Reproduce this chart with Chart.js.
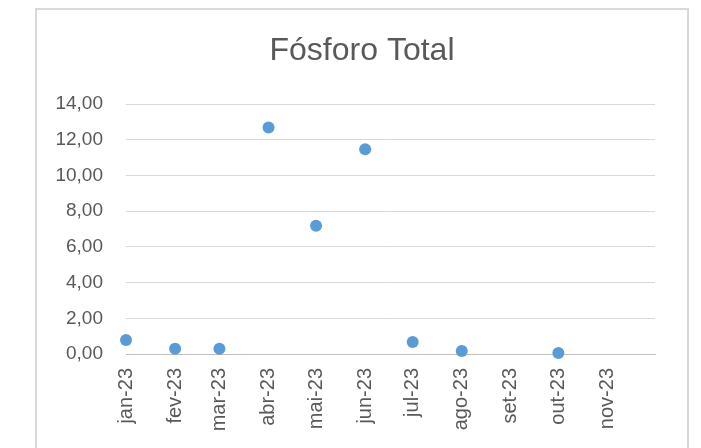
<!DOCTYPE html>
<html>
<head>
<meta charset="utf-8">
<script src="https://cdn.jsdelivr.net/npm/chart.js@4"></script>
<style>
  html, body { margin: 0; padding: 0; background: #ffffff; }
  #wrap { width: 701px; height: 448px; position: relative; }
</style>
</head>
<body>
<div id="wrap"><canvas id="c" width="701" height="448"></canvas></div>
<script>
const chartTitle = 'Fósforo Total';
const sampleDates = ['2023-01-01', '2023-02-01', '2023-03-01', '2023-04-01', '2023-05-01', '2023-06-01', '2023-07-01', '2023-08-01', '2023-10-01'];
const sampleValues = [0.78, 0.30, 0.30, 12.68, 7.18, 11.46, 0.67, 0.17, 0.06];
const tickDates = ['2023-01-01', '2023-02-01', '2023-03-01', '2023-04-01', '2023-05-01', '2023-06-01', '2023-07-01', '2023-08-01', '2023-09-01', '2023-10-01', '2023-11-01'];
const tickLabels = ['jan-23', 'fev-23', 'mar-23', 'abr-23', 'mai-23', 'jun-23', 'jul-23', 'ago-23', 'set-23', 'out-23', 'nov-23'];
const axisStart = '2023-01-01';
const axisEnd = '2023-12-01';
const yMin = 0, yMax = 14, yStep = 2;

const dayOf = d => (Date.parse(d + 'T00:00:00Z') - Date.parse(axisStart + 'T00:00:00Z')) / 86400000;
const points = sampleDates.map((d, i) => ({ x: dayOf(d), y: sampleValues[i] }));
const tickX = tickDates.map(dayOf);

const frame = {
  id: 'frame',
  beforeDraw(chart) {
    const ctx = chart.ctx;
    ctx.save();
    ctx.fillStyle = '#ffffff';
    ctx.fillRect(0, 0, chart.width, chart.height);
    ctx.strokeStyle = '#d9d9d9';
    ctx.lineWidth = 2;
    ctx.strokeRect(36, 9, 652, 470);
    ctx.restore();
  }
};

const font = 'Liberation Sans, Arial, sans-serif';

new Chart(document.getElementById('c'), {
  type: 'scatter',
  data: {
    datasets: [{
      data: points,
      backgroundColor: '#5b9bd5',
      borderColor: '#5b9bd5',
      borderWidth: 0,
      pointRadius: 6,
      pointHoverRadius: 6,
      clip: false
    }]
  },
  options: {
    responsive: false,
    animation: false,
    events: [],
    layout: { padding: { left: 36, right: 13, top: 20, bottom: 0 } },
    plugins: {
      legend: { display: false },
      tooltip: { enabled: false },
      title: {
        display: true,
        text: chartTitle,
        color: '#595959',
        font: { family: font, size: 32, weight: 'normal', lineHeight: 1.2 },
        padding: { top: 12, bottom: 33.6 }
      }
    },
    scales: {
      x: {
        type: 'linear',
        min: dayOf(axisStart),
        max: dayOf(axisEnd),
        grid: { display: false, drawTicks: false },
        border: { display: true, color: '#bfbfbf', width: 1 },
        afterBuildTicks: axis => { axis.ticks = tickX.map(v => ({ value: v })); },
        afterFit: s => { s.height = 94; },
        ticks: {
          autoSkip: false,
          maxRotation: 90,
          minRotation: 90,
          padding: 14,
          color: '#595959',
          font: { family: font, size: 20 },
          callback: (v, i) => tickLabels[i]
        }
      },
      y: {
        type: 'linear',
        min: yMin,
        max: yMax,
        grid: { color: '#d9d9d9', lineWidth: 1, drawTicks: false },
        border: { display: false },
        afterFit: s => { s.width = 90; },
        ticks: {
          stepSize: yStep,
          padding: 23,
          color: '#595959',
          font: { family: font, size: 19 },
          callback: v => v.toFixed(2).replace('.', ',')
        }
      },
      yR: {
        type: 'linear',
        position: 'right',
        display: true,
        grid: { display: false, drawTicks: false },
        border: { display: false },
        ticks: { display: false },
        afterFit: s => { s.width = 33; }
      }
    }
  },
  plugins: [frame]
});
</script>
</body>
</html>
